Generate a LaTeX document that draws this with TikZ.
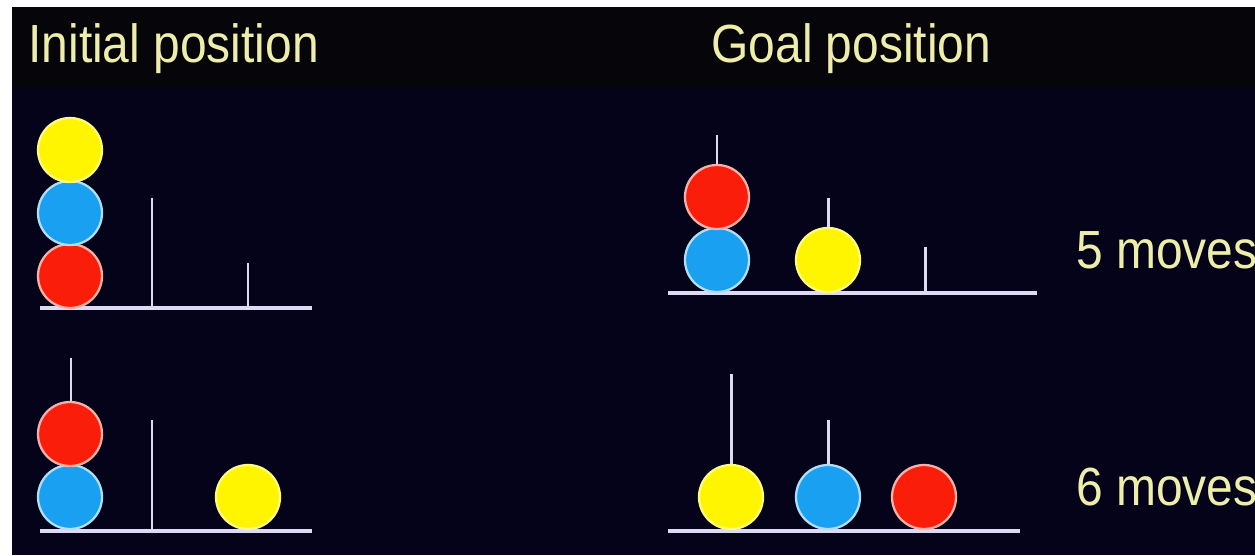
\documentclass[tikz,border=0pt]{standalone}
\usepackage{fontspec}
\setmainfont{Liberation Sans}
\definecolor{bgnavy}{RGB}{4,3,26}
\definecolor{bgtop}{RGB}{5,5,10}
\definecolor{ballyellow}{RGB}{255,245,0}
\definecolor{ballblue}{RGB}{25,160,240}
\definecolor{ballred}{RGB}{250,30,10}
\definecolor{rodwhite}{RGB}{222,218,245}
\definecolor{labelyellow}{RGB}{238,238,170}
\newcommand{\tallcap}[1]{\scalebox{1}[1.12]{#1}}
\begin{document}
\begin{tikzpicture}[x=0.02cm,y=-0.02cm,
	ball/.style={circle,minimum size=1.28cm,inner sep=0pt,line width=1.3pt},
	yball/.style={ball,fill=ballyellow,draw=ballyellow!50!white},
	bball/.style={ball,fill=ballblue,draw=ballblue!35!white},
	rball/.style={ball,fill=ballred,draw=ballred!35!white},
	peg/.style={rodwhite,line width=1.7pt},
	base/.style={rodwhite,line width=1.8pt},
	caption/.style={labelyellow,font=\fontsize{27.3}{32}\selectfont,anchor=base west,inner sep=0pt}]
	\useasboundingbox (0,0) rectangle (1255,555);
	\clip (0,0) rectangle (1255,555);
	\fill[white] (0,0) rectangle (1255,555);
	\fill[bgnavy] (12,7) rectangle (1255,555);
	\fill[bgtop] (12,7) rectangle (1255,88);
	\node[caption] (initial) at (28,62) {\tallcap{Initial position}};
	\node[caption] (goal) at (711,62) {\tallcap{Goal position}};
	% initial, top row
	\draw[peg] (152,198) coordinate (pegAb) -- (152,308) coordinate (footAb);
	\draw[peg] (248,263) coordinate (pegAc) -- (248,308) coordinate (footAc);
	\draw[base] (40,308) coordinate (baseAl) -- (312,308) coordinate (baseAr);
	\node[rball] (redA) at (70,276) {};
	\node[bball] (blueA) at (70,213) {};
	\node[yball] (yellowA) at (70,150) {};
	% goal, top row
	\draw[peg] (717,135) coordinate (pegBa) -- (717,293) coordinate (footBa);
	\draw[peg] (828,198) coordinate (pegBb) -- (828,293) coordinate (footBb);
	\draw[peg] (925,247) coordinate (pegBc) -- (925,293) coordinate (footBc);
	\draw[base] (668,293) coordinate (baseBl) -- (1037,293) coordinate (baseBr);
	\node[bball] (blueB) at (717,260) {};
	\node[rball] (redB) at (717,197) {};
	\node[yball] (yellowB) at (828,260) {};
	\node[caption] (fivemoves) at (1076,268) {\tallcap{5 moves}};
	% initial, bottom row
	\draw[peg] (71,358) coordinate (pegCa) -- (71,531) coordinate (footCa);
	\draw[peg] (152,420) coordinate (pegCb) -- (152,531) coordinate (footCb);
	\draw[base] (40,531) coordinate (baseCl) -- (312,531) coordinate (baseCr);
	\node[bball] (blueC) at (70,497) {};
	\node[rball] (redC) at (70,434) {};
	\node[yball] (yellowC) at (248,497) {};
	% goal, bottom row
	\draw[peg] (731,374) coordinate (pegDa) -- (731,531) coordinate (footDa);
	\draw[peg] (828,420) coordinate (pegDb) -- (828,531) coordinate (footDb);
	\draw[base] (668,531) coordinate (baseDl) -- (1020,531) coordinate (baseDr);
	\node[yball] (yellowD) at (731,497) {};
	\node[bball] (blueD) at (828,497) {};
	\node[rball] (redD) at (924,497) {};
	\node[caption] (sixmoves) at (1076,505) {\tallcap{6 moves}};
\end{tikzpicture}
\end{document}
